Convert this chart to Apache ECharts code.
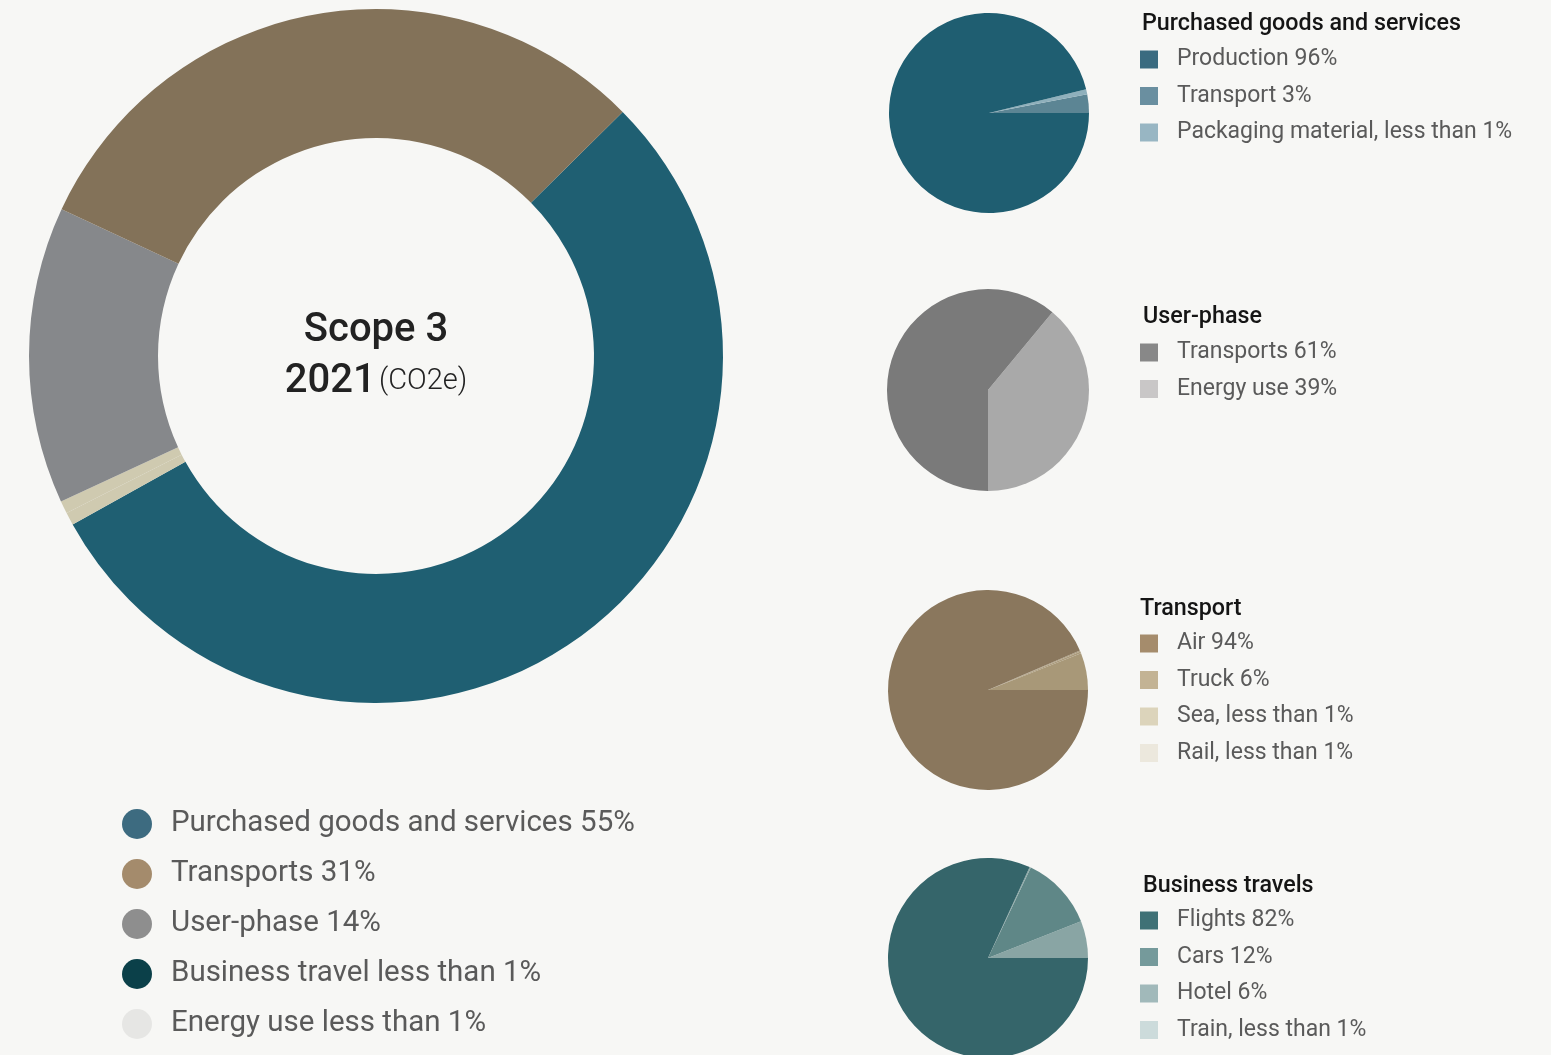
<!DOCTYPE html>
<html><head><meta charset="utf-8">
<script src="https://cdn.jsdelivr.net/npm/echarts@6/dist/echarts.min.js"></script>
<style>html,body{margin:0;padding:0;background:#f7f7f5}#c{width:1551px;height:1055px}</style>
</head><body><div id="c"></div>
<script>
// ---- Data ----
const mainNames  = ['Purchased goods and services','Business travel','Energy use','User-phase','Transports'];
const mainValues = [55, 0.6, 0.6, 14, 31];
const mainLabels = ['Purchased goods and services 55%','Business travel less than 1%','Energy use less than 1%','User-phase 14%','Transports 31%'];
const mainLegendOrder = ['Purchased goods and services','Transports','User-phase','Business travel','Energy use'];

const pgsNames  = ['Transport','Packaging material','Production'];
const pgsValues = [3, 0.8, 96];
const pgsLabels = ['Transport 3%','Packaging material, less than 1%','Production 96%'];
const pgsLegendOrder = ['Production','Transport','Packaging material'];

const upNames  = ['Energy use (user-phase)','Transports (user-phase)'];
const upValues = [39, 61];
const upLabels = ['Energy use 39%','Transports 61%'];
const upLegendOrder = ['Transports (user-phase)','Energy use (user-phase)'];

const trNames  = ['Truck','Sea','Rail','Air'];
const trValues = [6, 0.3, 0.2, 94];
const trLabels = ['Truck 6%','Sea, less than 1%','Rail, less than 1%','Air 94%'];
const trLegendOrder = ['Air','Truck','Sea','Rail'];

const btNames  = ['Hotel','Cars','Train','Flights'];
const btValues = [6, 12, 0.2, 82];
const btLabels = ['Hotel 6%','Cars 12%','Train, less than 1%','Flights 82%'];
const btLegendOrder = ['Flights','Cars','Hotel','Train'];

const titles = ['Purchased goods and services','User-phase','Transport','Business travels'];

// ---- Styles ----
const FONT = 'Roboto';
const sliceColors = {
  'Purchased goods and services':'#1f5f72','Business travel':'#cfcab0','Energy use':'#cfcab0','User-phase':'#86888b','Transports':'#837259',
  'Transport':'#5c8594','Packaging material':'#8fb0bc','Production':'#1f5e71',
  'Energy use (user-phase)':'#a9a9a9','Transports (user-phase)':'#7a7a7a',
  'Truck':'#a89878','Sea':'#ab9b7c','Rail':'#ad9e80','Air':'#8a775d',
  'Hotel':'#89a5a4','Cars':'#5f8787','Train':'#8ba7a6','Flights':'#35656a'
};
const legendColors = {
  'Purchased goods and services':'#3d6b80','Transports':'#a48b6c','User-phase':'#8e8e8e','Business travel':'#0b4049','Energy use':'#e6e6e4',
  'Production':'#3a6b80','Transport':'#6a8fa0','Packaging material':'#98b6c3',
  'Transports (user-phase)':'#888888','Energy use (user-phase)':'#c9c7c7',
  'Air':'#a58c6c','Truck':'#c3b394','Sea':'#dcd4bb','Rail':'#ece8dd',
  'Flights':'#3f7176','Cars':'#759a9b','Hotel':'#a1b9ba','Train':'#ccdbdb'
};

function mk(names, values){ return names.map((n,i)=>({name:n, value:values[i], itemStyle:{color:sliceColors[n]}})); }
function labelMap(names, labels){ const m={}; names.forEach((n,i)=>m[n]=labels[i]); return m; }

const pieBase = {type:'pie', label:{show:false}, labelLine:{show:false}, silent:true, emphasis:{disabled:true}, animation:false};

function smallLegend(order, names, labels, top){
  const m = labelMap(names, labels);
  return {
    orient:'vertical', left:1140, top:top, padding:0, selectedMode:false, icon:'rect',
    itemWidth:18, itemHeight:18, itemGap:13.5,
    data: order.map(n=>({name:n, itemStyle:{color:legendColors[n]}})),
    formatter: n=>m[n],
    textStyle:{fontFamily:FONT, fontSize:23, color:'#5a5a5a', lineHeight:18, padding:[0,0,0,14]}
  };
}

const mainMap = labelMap(mainNames, mainLabels);

const option = {
  backgroundColor:'#f7f7f5',
  animation:false,
  title: [
    {text:titles[0], left:1142, top:13},
    {text:titles[1], left:1143, top:306},
    {text:titles[2], left:1140, top:598},
    {text:titles[3], left:1143, top:875}
  ].map(t=>Object.assign(t,{padding:0, textStyle:{fontFamily:FONT, fontSize:23.3, fontWeight:500, color:'#151515'}})),
  legend: [
    {
      orient:'vertical', left:122, top:809, padding:0, selectedMode:false, icon:'circle',
      itemWidth:30, itemHeight:30, itemGap:20,
      data: mainLegendOrder.map(n=>({name:n, itemStyle:{color:legendColors[n]}})),
      formatter: n=>mainMap[n],
      textStyle:{fontFamily:FONT, fontSize:29.5, color:'#5a5a5a', lineHeight:30, padding:[0,0,0,14]}
    },
    smallLegend(pgsLegendOrder, pgsNames, pgsLabels, 48),
    smallLegend(upLegendOrder, upNames, upLabels, 341),
    smallLegend(trLegendOrder, trNames, trLabels, 632),
    smallLegend(btLegendOrder, btNames, btLabels, 909)
  ],
  graphic: [
    {type:'text', x:376, y:331, style:{text:'Scope 3', fontFamily:FONT, fontSize:40, fontWeight:500, fill:'#222', align:'center', verticalAlign:'middle'}},
    {type:'text', x:376, y:382, style:{text:'{b|2021} {c|(CO2e)}', align:'center', verticalAlign:'middle',
      rich:{b:{fontFamily:FONT, fontSize:40, fontWeight:500, fill:'#222'}, c:{fontFamily:FONT, fontSize:29, fontWeight:300, fill:'#222'}}}}
  ],
  series: [
    Object.assign({}, pieBase, {name:'Scope 3', center:[376,356], radius:[218,347], startAngle:44.7, clockwise:true, data:mk(mainNames, mainValues)}),
    Object.assign({}, pieBase, {name:'pgs', center:[989,113], radius:[0,100], startAngle:0, clockwise:false, data:mk(pgsNames, pgsValues)}),
    Object.assign({}, pieBase, {name:'up', center:[988,390], radius:[0,101], startAngle:-90, clockwise:false, data:mk(upNames, upValues)}),
    Object.assign({}, pieBase, {name:'tr', center:[988,690], radius:[0,100], startAngle:0, clockwise:false, data:mk(trNames, trValues)}),
    Object.assign({}, pieBase, {name:'bt', center:[988,958], radius:[0,100], startAngle:0, clockwise:false, data:mk(btNames, btValues)})
  ]
};
const chart = echarts.init(document.getElementById('c'), null, {renderer:'canvas'});
chart.setOption(option);
</script>
</body></html>
